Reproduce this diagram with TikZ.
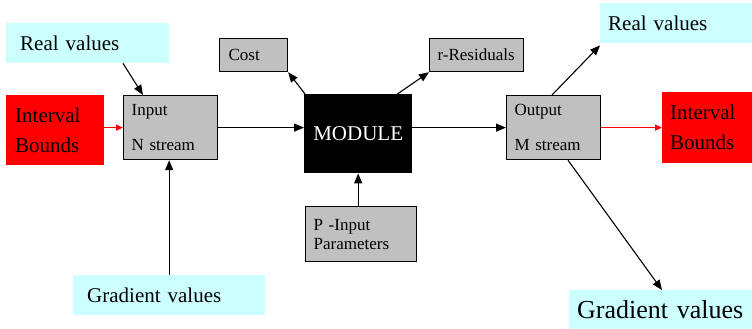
\documentclass[tikz,border=0pt]{standalone}
\usepackage{fontspec}
\setmainfont{Liberation Serif}
\setsansfont{Liberation Serif}
\usetikzlibrary{arrows.meta}
\definecolor{boxgray}{HTML}{C0C0C0}
\definecolor{lcyan}{HTML}{CCFFFF}
\definecolor{bred}{HTML}{FF0000}
\tikzset{
  base/.style={anchor=north west, inner ysep=0pt, align=left},
  graybox/.style={base, draw=black, line width=1.2pt, fill=boxgray, inner xsep=8pt,
    font=\rmfamily\fontsize{17}{20}\selectfont},
  cyanbox/.style={base, fill=lcyan, font=\rmfamily\fontsize{21}{24}\selectfont},
  redbox/.style={base, fill=bred, inner xsep=8pt, font=\rmfamily\fontsize{21}{30}\selectfont},
  conn/.style={line width=1.1pt, -{Triangle[length=10pt,width=8pt]}},
  redconn/.style={draw=bred, line width=1.3pt, -{Triangle[length=7pt,width=6pt]}},
}
\begin{document}
\begin{tikzpicture}[x=1pt,y=-1pt]
\useasboundingbox (0,0) rectangle (752,329);
% left side
\node[cyanbox, inner xsep=14pt, minimum width=163pt, minimum height=40pt, text width=135pt] (realL) at (6,23) {Real values};
\node[redbox, inner xsep=9pt, minimum width=98pt, minimum height=70pt, text width=80pt] (intL) at (6,95) {Interval\\Bounds};
\node[graybox, minimum width=94pt, minimum height=64pt, text width=78pt, font=\rmfamily\fontsize{17}{35}\selectfont] (input) at (123,95) {Input\\N stream};
\node[cyanbox, inner xsep=14pt, minimum width=192pt, minimum height=40pt, text width=164pt] (gradL) at (73,275) {Gradient values};
% middle
\node[graybox, inner xsep=9pt, minimum width=68pt, minimum height=33pt, text width=50pt] (cost) at (219,38) {Cost};
\node[graybox, minimum width=94pt, minimum height=33pt, text width=78pt] (rres) at (429,38) {r-Residuals};
\node[base, fill=black, text=white, align=center, inner xsep=0pt, minimum width=108pt, minimum height=79pt, text width=108pt, font=\rmfamily\fontsize{21}{24}\selectfont] (module) at (304,94) {MODULE};
\node[graybox, minimum width=111pt, minimum height=55pt, text width=95pt, font=\rmfamily\fontsize{17}{19}\selectfont] (pin) at (305,206) {P -Input\\Parameters};
% right side
\node[graybox, minimum width=94pt, minimum height=64pt, text width=78pt, font=\rmfamily\fontsize{17}{35}\selectfont] (output) at (506,95) {Output\\M stream};
\node[cyanbox, inner xsep=8pt, minimum width=152pt, minimum height=40pt, text width=136pt] (realR) at (600,3) {Real values};
\node[redbox, minimum width=90pt, minimum height=71pt, text width=74pt] (intR) at (662,92) {Interval\\Bounds};
\node[cyanbox, inner xsep=8pt, minimum width=183pt, minimum height=39pt, text width=167pt, font=\rmfamily\fontsize{26}{30}\selectfont] (gradR) at (569,290) {Gradient values};
% connectors
\draw[conn] ([xshift=117pt]realL.south west) -- ([xshift=20pt]input.north west);
\draw[redconn] (intL.east |- input.west) -- (input.west);
\draw[conn] (gradL.north) -- (gradL.north |- input.south);
\draw[conn] (input.east) -- (input.east -| module.west);
\draw[conn] ([xshift=1pt]module.north west) -- (cost.south east);
\draw[conn] ([xshift=-15pt]module.north east) -- (rres.south west);
\draw[conn] (module.south |- pin.north) -- (module.south);
\draw[conn] (module.east |- output.west) -- (output.west);
\draw[redconn] (output.east) -- (output.east -| intR.west);
\draw[conn] ([xshift=46pt]output.north west) -- ([yshift=-2pt]realR.south west);
\draw[conn] ([xshift=62pt]output.south west) -- ([xshift=93pt]gradR.north west);
\end{tikzpicture}
\end{document}
